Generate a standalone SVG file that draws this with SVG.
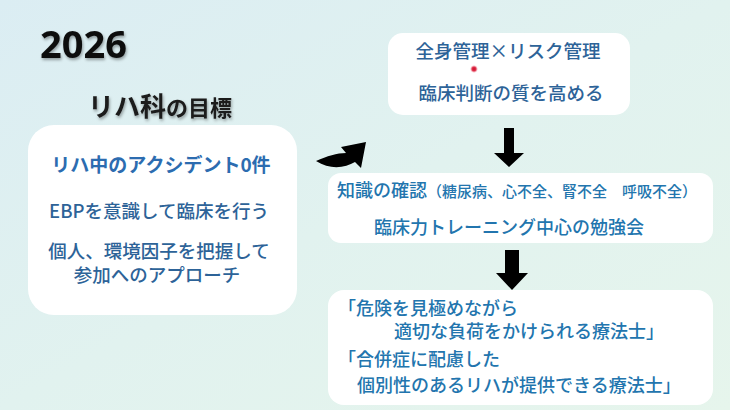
<svg xmlns="http://www.w3.org/2000/svg" width="730" height="410" viewBox="0 0 730 410">
  <defs>
    <linearGradient id="bg" x1="0" y1="0" x2="1" y2="1">
      <stop offset="0" stop-color="#dbedf3"/>
      <stop offset="0.5" stop-color="#e1f2ef"/>
      <stop offset="1" stop-color="#e6f5ec"/>
    </linearGradient>
    <filter id="shadow" x="-20%" y="-20%" width="140%" height="160%">
      <feDropShadow dx="1" dy="2" stdDeviation="1.5" flood-color="#000" flood-opacity="0.35"/>
    </filter>
    <radialGradient id="dot">
      <stop offset="0" stop-color="#c8102e"/>
      <stop offset="0.5" stop-color="#e0304a"/>
      <stop offset="1" stop-color="#f29aa8" stop-opacity="0"/>
    </radialGradient>
  </defs>
  <style>
    text { font-family: "Noto Sans CJK JP", "Noto Sans", sans-serif; font-weight: 500; }
    .year { font-family: "Noto Sans", "Noto Sans CJK JP", sans-serif; font-weight: bold; font-size: 38px; fill: #111111; }
    .head { font-weight: bold; fill: #1a1a1a; }
    .box { fill: #ffffff; }
    .blue { fill: #2d6398; font-size: 18.5px; }
    .blueb { fill: #2c6cb0; font-size: 19px; font-weight: bold; }
    .cyan { fill: #2275ae; font-size: 18px; }
    .arrow { fill: #000000; }
  </style>
  <rect x="0" y="0" width="730" height="410" fill="url(#bg)"/>

  <g id="title">
    <text class="year" x="40" y="58" filter="url(#shadow)">2026</text>
  </g>
  <g id="subtitle">
    <text class="head" x="88" y="116" filter="url(#shadow)"><tspan font-size="26">リハ科</tspan><tspan font-size="22">の目標</tspan></text>
  </g>

  <g id="goals">
    <rect class="box" x="28" y="125" width="269" height="190" rx="26"/>
    <text class="blueb" x="161" y="172" text-anchor="middle">リハ中のアクシデント0件</text>
    <text class="blue" x="159" y="218" text-anchor="middle">EBPを意識して臨床を行う</text>
    <text class="blue" x="159" y="258" text-anchor="middle">個人、環境因子を把握して</text>
    <text class="blue" x="157" y="282" text-anchor="middle">参加へのアプローチ</text>
  </g>

  <g id="management">
    <rect class="box" x="388" y="33" width="242" height="82" rx="15"/>
    <text class="blue" x="508" y="58" text-anchor="middle">全身管理×リスク管理</text>
    <text class="blue" x="511" y="100" text-anchor="middle">臨床判断の質を高める</text>
    <circle cx="474" cy="69" r="4" fill="url(#dot)"/>
  </g>

  <g id="knowledge">
    <rect class="box" x="328" y="173" width="385" height="70" rx="13"/>
    <text class="cyan" x="337" y="197"><tspan font-size="18">知識の確認</tspan><tspan font-size="15">（糖尿病、心不全、腎不全　呼吸不全）</tspan></text>
    <text class="cyan" x="509" y="234" text-anchor="middle">臨床力トレーニング中心の勉強会</text>
  </g>

  <g id="therapist">
    <rect class="box" x="328" y="290" width="385" height="115" rx="16"/>
    <text class="cyan" x="338" y="315">「危険を見極めながら</text>
    <text class="cyan" x="394" y="338">適切な負荷をかけられる療法士」</text>
    <text class="cyan" x="338" y="366">「合併症に配慮した</text>
    <text class="cyan" x="357" y="392">個別性のあるリハが提供できる療法士」</text>
  </g>

  <g id="connectors">
    <path class="arrow" d="M316 161 C327 156 337 153 346 153 L341 147 L366 142 L361 168 L355 162 C345 168 330 170 316 161 Z"/>
    <path class="arrow" d="M504 128 H514 V153 H524 L509 167 L494 153 H504 Z"/>
    <path class="arrow" d="M505 250 H519 V273 H528 L512 290 L496 273 H505 Z"/>
  </g>
</svg>
